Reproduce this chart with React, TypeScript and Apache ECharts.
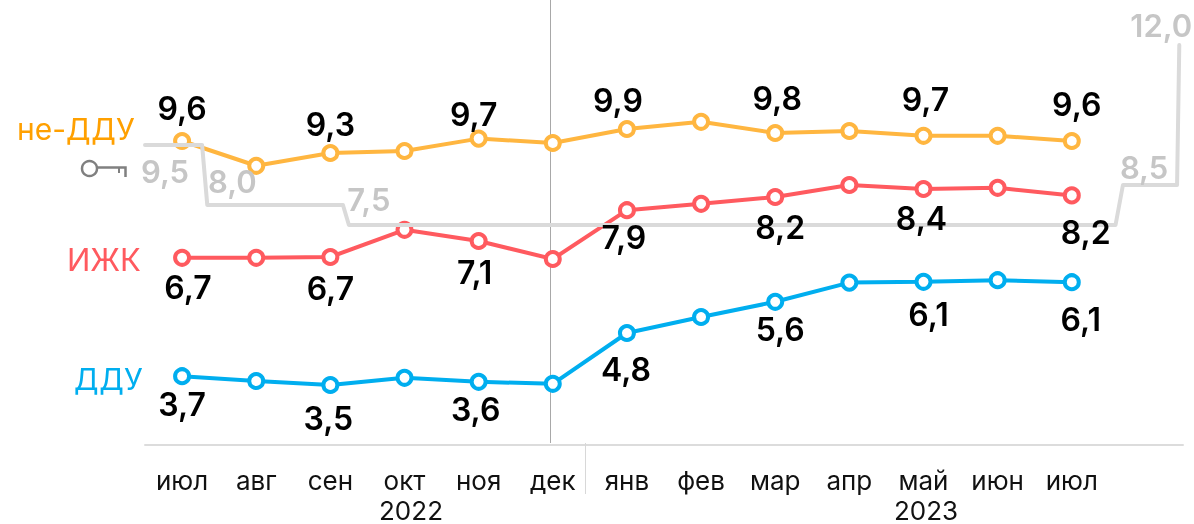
import React, { useEffect, useRef } from "react";
import * as echarts from "echarts";

const months = ["июл", "авг", "сен", "окт", "ноя", "дек", "янв", "фев", "мар", "апр", "май", "июн", "июл", ""];
const neDdu = [9.6, 8.98, 9.3, 9.35, 9.66, 9.55, 9.9, 10.08, 9.8, 9.85, 9.73, 9.73, 9.6];
const izhk = [6.68, 6.68, 6.7, 7.38, 7.1, 6.65, 7.87, 8.03, 8.2, 8.5, 8.4, 8.43, 8.24];
const ddu = [3.72, 3.6, 3.5, 3.68, 3.58, 3.53, 4.8, 5.2, 5.58, 6.06, 6.08, 6.12, 6.07];
const keyRateX = [-0.5, 0.27, 0.34, 2.17, 2.25, 12.59, 12.69, 13.42, 13.45];
const keyRateY = [9.5, 9.5, 8.0, 8.0, 7.5, 7.5, 8.5, 8.5, 12.0];

const FONT = "Inter";
const fmt = (v: number) => v.toFixed(1).replace(".", ",");

const neDduLabels: Record<number, number[]> = {
  0: [0, -33], 2: [0, -29], 4: [-5, -24], 6: [-9, -29], 8: [2, -35], 10: [2, -36], 12: [5, -37],
};
const izhkLabels: Record<number, number[]> = {
  0: [6, 30], 2: [0, 31], 4: [-4, 31], 6: [-3, 27], 8: [5, 30], 10: [-2, 29], 12: [14, 37],
};
const dduLabels: Record<number, number[]> = {
  0: [0, 28], 2: [-2, 33], 4: [-3, 28], 6: [-1, 36], 8: [5, 28], 10: [5, 33], 12: [9, 37],
};
const keyLabels: Record<number, number[]> = {
  1: [-37, 26], 2: [25, -24], 4: [20, -26], 7: [-33, -18], 8: [-18, -20],
};

function lineSeries(name: string, values: number[], color: string) {
  return {
    name,
    type: "line",
    data: values,
    symbol: "circle",
    symbolSize: 14,
    showSymbol: true,
    lineStyle: { color, width: 4 },
    itemStyle: { color: "#fff", borderColor: color, borderWidth: 4 },
    label: { show: false },
    emphasis: { disabled: true },
    z: 3,
  };
}

// Transparent copy of a series that only carries its value labels, so that they sit above the key-rate line.
function labelSeries(name: string, values: number[], labels: Record<number, number[]>) {
  return {
    name,
    type: "line",
    data: values.map((value, i) => ({
      value,
      label: labels[i]
        ? { show: true, position: "inside", offset: labels[i], formatter: fmt(value) }
        : { show: false },
    })),
    symbol: "circle",
    symbolSize: 1,
    showSymbol: true,
    lineStyle: { width: 0, opacity: 0 },
    itemStyle: { color: "transparent" },
    label: { fontFamily: FONT, fontSize: 32, fontWeight: 600, color: "#000" },
    emphasis: { disabled: true },
    z: 6,
  };
}

export default function App() {
  const ref = useRef<HTMLDivElement>(null);
  useEffect(() => {
    const chart = echarts.init(ref.current!, undefined, { renderer: "svg" });
    const txt = (text: string, x: number, y: number, fill: string, fontSize: number, align = "left") => ({
      type: "text",
      x,
      y,
      style: { text, fill, fontSize, lineHeight: Math.round(fontSize * 0.8), fontFamily: FONT, fontWeight: 400, textAlign: align, textVerticalAlign: "middle" },
      z: 10,
    });
    chart.setOption({
      animation: false,
      grid: { left: 145, top: 5, width: 1038, height: 440, containLabel: false },
      xAxis: [
        {
          type: "category",
          data: months,
          boundaryGap: true,
          axisLine: { lineStyle: { color: "#dcdcdc", width: 2 } },
          axisTick: { show: false },
          axisLabel: { fontFamily: FONT, fontSize: 26, color: "#111", margin: 22, interval: 0 },
        },
        { type: "value", min: -0.5, max: 13.5, show: false },
      ],
      yAxis: { type: "value", min: 2, max: 13, show: false },
      series: [
        lineSeries("не-ДДУ", neDdu, "#FFB640"),
        lineSeries("ИЖК", izhk, "#FF5A5F"),
        lineSeries("ДДУ", ddu, "#00AEEF"),
        {
          name: "Ключевая ставка",
          type: "line",
          xAxisIndex: 1,
          data: keyRateX.map((x, i) => ({
            value: [x, keyRateY[i]],
            label: keyLabels[i]
              ? { show: true, position: "inside", offset: keyLabels[i], formatter: fmt(keyRateY[i]) }
              : { show: false },
          })),
          symbol: "circle",
          symbolSize: 1,
          showSymbol: true,
          itemStyle: { color: "transparent" },
          lineStyle: { color: "#DADADA", width: 4, join: "round", cap: "round" },
          label: { fontFamily: FONT, fontSize: 31, fontWeight: 600, color: "#C6C6C6" },
          emphasis: { disabled: true },
          z: 4,
        },
        labelSeries("не-ДДУ подписи", neDdu, neDduLabels),
        labelSeries("ИЖК подписи", izhk, izhkLabels),
        labelSeries("ДДУ подписи", ddu, dduLabels),
      ],
      graphic: [
        { type: "line", shape: { x1: 550.5, y1: 0, x2: 550.5, y2: 443 }, style: { stroke: "#a8a8a8", lineWidth: 1 }, z: 1 },
        { type: "line", shape: { x1: 585.5, y1: 443, x2: 585.5, y2: 494 }, style: { stroke: "#d8d8d8", lineWidth: 1 }, z: 1 },
        txt("не-ДДУ", 17, 129, "#FFA000", 30),
        txt("ИЖК", 67, 259, "#FF5A5F", 31),
        txt("ДДУ", 74, 379, "#00AEEF", 30),
        txt("2022", 411, 510, "#111", 26, "center"),
        txt("2023", 926, 510, "#111", 26, "center"),
        { type: "circle", shape: { cx: 89.5, cy: 168.5, r: 7.5 }, style: { fill: "none", stroke: "#808080", lineWidth: 2.5 } },
        { type: "polyline", shape: { points: [[97, 167.5], [125.5, 167.5], [125.5, 177]] }, style: { fill: "none", stroke: "#808080", lineWidth: 2.5 } },
        { type: "line", shape: { x1: 119, y1: 167.5, x2: 119, y2: 173 }, style: { stroke: "#808080", lineWidth: 2 } },
      ],
    });
    return () => chart.dispose();
  }, []);
  return <div ref={ref} style={{ width: 1194, height: 524, position: "fixed", left: 0, top: 0 }} />;
}
